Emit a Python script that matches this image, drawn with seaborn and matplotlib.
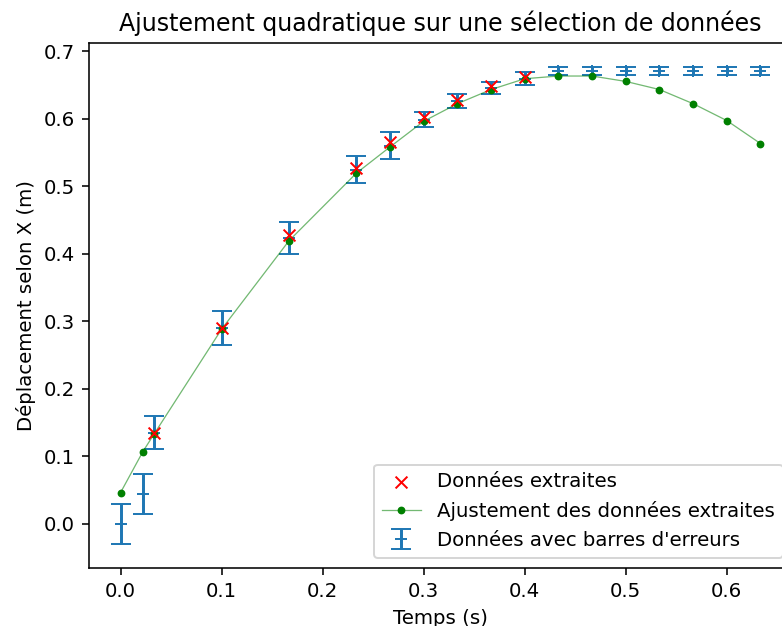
import numpy as np
import pandas as pd
import matplotlib
matplotlib.use("Agg")
import matplotlib.pyplot as plt
import seaborn as sns

# Points extraits (croix rouges)
t_extr = [0.0333, 0.1, 0.1667, 0.2333, 0.2667, 0.3, 0.3333, 0.3667, 0.4]
x_extr = [0.135, 0.290, 0.427, 0.527, 0.565, 0.602, 0.628, 0.648, 0.662]

# Ajustement quadratique (points verts)
t_fit = [0.0, 0.0222, 0.0333, 0.1, 0.1667, 0.2333, 0.2667, 0.3, 0.3333, 0.3667,
         0.4, 0.4333, 0.4667, 0.5, 0.5333, 0.5667, 0.6, 0.6333]
x_fit = [0.046, 0.107, 0.133, 0.288, 0.419, 0.519, 0.558, 0.596, 0.622, 0.643,
         0.659, 0.663, 0.663, 0.655, 0.643, 0.622, 0.597, 0.563]

# Données avec barres d'erreurs
t_err = t_fit
x_err = [0.0, 0.044, 0.135, 0.290, 0.423, 0.524, 0.560, 0.598, 0.626, 0.645,
         0.659, 0.671, 0.671, 0.671, 0.671, 0.671, 0.671, 0.671]
err = [0.03, 0.03, 0.025, 0.025, 0.024, 0.02, 0.02, 0.011, 0.011, 0.009,
       0.01, 0.006, 0.006, 0.006, 0.006, 0.006, 0.006, 0.006]

df_extr = pd.DataFrame({"t": t_extr, "x": x_extr})
df_fit = pd.DataFrame({"t": t_fit, "x": x_fit})

DPI = 142
fig = plt.figure(figsize=(782 / DPI, 626 / DPI), dpi=DPI)
ax = fig.add_axes([88.5 / 782, 1 - 567.9 / 626, 704 / 782, 525.2 / 626])

eb = ax.errorbar(t_err, x_err, yerr=err, fmt="+", color="C0", capsize=5,
                 label="Données avec barres d'erreurs", zorder=1)
sns.lineplot(data=df_fit, x="t", y="x", ax=ax, color="green", marker="o",
             markersize=3.2, markeredgecolor="green", linewidth=0.65,
             label="Ajustement des données extraites", zorder=2)
# trait plus clair que les points
fit_line = ax.lines[-1]
fit_line.set_color((0.0, 0.5, 0.0, 0.55))
fit_line.set_markerfacecolor("green")
fit_line.set_markeredgecolor("green")

sns.scatterplot(data=df_extr, x="t", y="x", ax=ax, color="red", marker="x",
                s=36, linewidth=1, label="Données extraites", zorder=3)

ax.set_title("Ajustement quadratique sur une sélection de données")
ax.set_xlabel("Temps (s)")
ax.set_ylabel("Déplacement selon X (m)")

handles, labels = ax.get_legend_handles_labels()
order = [labels.index(l) for l in ["Données extraites",
                                    "Ajustement des données extraites",
                                    "Données avec barres d'erreurs"]]
ax.legend([handles[i] for i in order], [labels[i] for i in order],
          loc="lower right")

fig.savefig("out.png", dpi=DPI)
